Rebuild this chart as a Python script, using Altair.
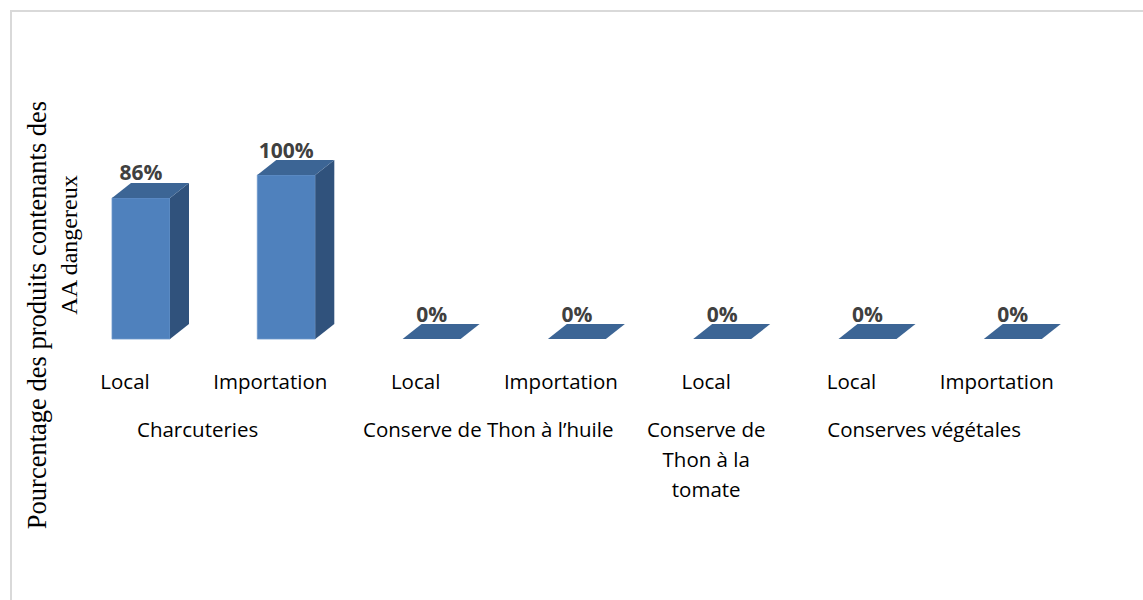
import altair as alt
import pandas as pd

# ---------------- data ----------------
categories = ["Local", "Importation", "Local", "Importation", "Local", "Local", "Importation"]
values = [86, 100, 0, 0, 0, 0, 0]
value_labels = ["86%", "100%", "0%", "0%", "0%", "0%", "0%"]
groups = ["Charcuteries", "Conserve de Thon à l’huile", "Conserve de\nThon à la\ntomate", "Conserves végétales"]
group_sizes = [2, 2, 1, 2]
y_title_lines = ["Pourcentage des produits contenants des", "AA dangereux"]

# ---------------- layout / style constants ----------------
W, H = 1143, 600
STEP = 145.3          # px per category
X0 = 141.0            # px centre of first bar front
PXV = 1.64            # px per percent
Y0 = 339.0            # px of value 0
HW = 29.0 / STEP      # half width of bar front (data units)
DX = 19.0 / STEP      # depth x (data units)
DY = 15.0 / PXV       # depth y (data units)
LBL_SHIFT = 16.0 / STEP

FRONT = "#4f81bd"
SIDE = "#30527c"
TOP = "#3c6595"
TXT = "#404040"
FONT = "Open Sans"

xscale = alt.Scale(domain=[(0 - X0) / STEP, (W - X0) / STEP], nice=False, zero=False)
yscale = alt.Scale(domain=[(Y0 - H) / PXV, Y0 / PXV], nice=False, zero=False)

# ---------------- tables built from arrays ----------------
bars = pd.DataFrame({"idx": list(range(len(values))), "val": values,
                     "lab": value_labels, "cat": categories})

side_rows, top_rows = [], []
for i, v in enumerate(values):
    side_rows.append({"idx": i, "x": i + HW, "lo": 0.0, "hi": v})
    side_rows.append({"idx": i, "x": i + HW + DX, "lo": DY, "hi": v + DY})
    top_rows.append({"idx": i, "y": v, "xa": i - HW, "xb": i + HW})
    top_rows.append({"idx": i, "y": v + DY, "xa": i - HW + DX, "xb": i + HW + DX})
side = pd.DataFrame(side_rows)
side = side[side.groupby("idx")["hi"].transform("max") > DY + 0.001]
top = pd.DataFrame(top_rows)

grp_rows = []
start = 0
for g, n in zip(groups, group_sizes):
    pos = [k - LBL_SHIFT for k in range(start, start + n)]
    grp_rows.append({"g": g, "pos": sum(pos) / len(pos)})
    start += n
grp = pd.DataFrame(grp_rows)

titles = pd.DataFrame({"t": y_title_lines, "xp": [46, 77], "yp": [315, 245], "fs": [26.5, 24]})

X = lambda f: alt.X(f, type="quantitative", scale=xscale, axis=None)
Y = lambda f: alt.Y(f, type="quantitative", scale=yscale, axis=None)

front = alt.Chart(bars).transform_filter("datum.val > 0").transform_calculate(
    xa=f"datum.idx - {HW}", xb=f"datum.idx + {HW}", z="0"
).mark_rect(color=FRONT, stroke="#6c97cc", strokeWidth=0.8).encode(
    x=X("xa:Q"), x2="xb:Q", y=Y("z:Q"), y2="val:Q"
)

side_m = alt.Chart(side).mark_area(color=SIDE, orient="vertical", interpolate="linear").encode(
    x=X("x:Q"), y=Y("lo:Q"), y2="hi:Q", detail="idx:N"
)

top_m = alt.Chart(top).mark_area(color=TOP, orient="horizontal", interpolate="linear").encode(
    y=Y("y:Q"), x=X("xa:Q"), x2="xb:Q", detail="idx:N"
)

vlabels = alt.Chart(bars).transform_calculate(yy=f"datum.val + {DY}").mark_text(
    font=FONT, fontSize=21, fontWeight="bold", color=TXT, baseline="alphabetic", dy=-2.5
).encode(x=X("idx:Q"), y=Y("yy:Q"), text="lab:N")

catlabels = alt.Chart(bars).transform_calculate(p=f"datum.idx - {LBL_SHIFT}").mark_text(
    font=FONT, fontSize=20.5, color="#000000", baseline="alphabetic"
).encode(x=X("p:Q"), y=alt.value(389), text="cat:N")

grplabels = alt.Chart(grp).mark_text(
    font=FONT, fontSize=20.5, color="#000000", baseline="alphabetic", lineBreak="\n", lineHeight=30
).encode(x=X("pos:Q"), y=alt.value(437), text="g:N")

ytitle = alt.Chart(titles).mark_text(
    font="Liberation Serif", color="#000000", angle=270, baseline="alphabetic", align="center"
).encode(
    x=alt.X("xp:Q", scale=None, axis=None), y=alt.Y("yp:Q", scale=None, axis=None),
    text="t:N", size=alt.Size("fs:Q", scale=None, legend=None)
)

border = alt.Chart(pd.DataFrame({"a": [0]})).mark_rect(
    fill=None, stroke="#d9d9d9", strokeWidth=2
).encode(x=alt.value(11), x2=alt.value(1300), y=alt.value(11), y2=alt.value(800))

chart = alt.layer(border, front, side_m, top_m, vlabels, catlabels, grplabels, ytitle).properties(
    width=W, height=H, padding=0, autosize=alt.AutoSizeParams(type="none"), background="white"
).configure_view(stroke=None)

chart.save("out.html", embed_options={"renderer": "svg", "actions": False})
